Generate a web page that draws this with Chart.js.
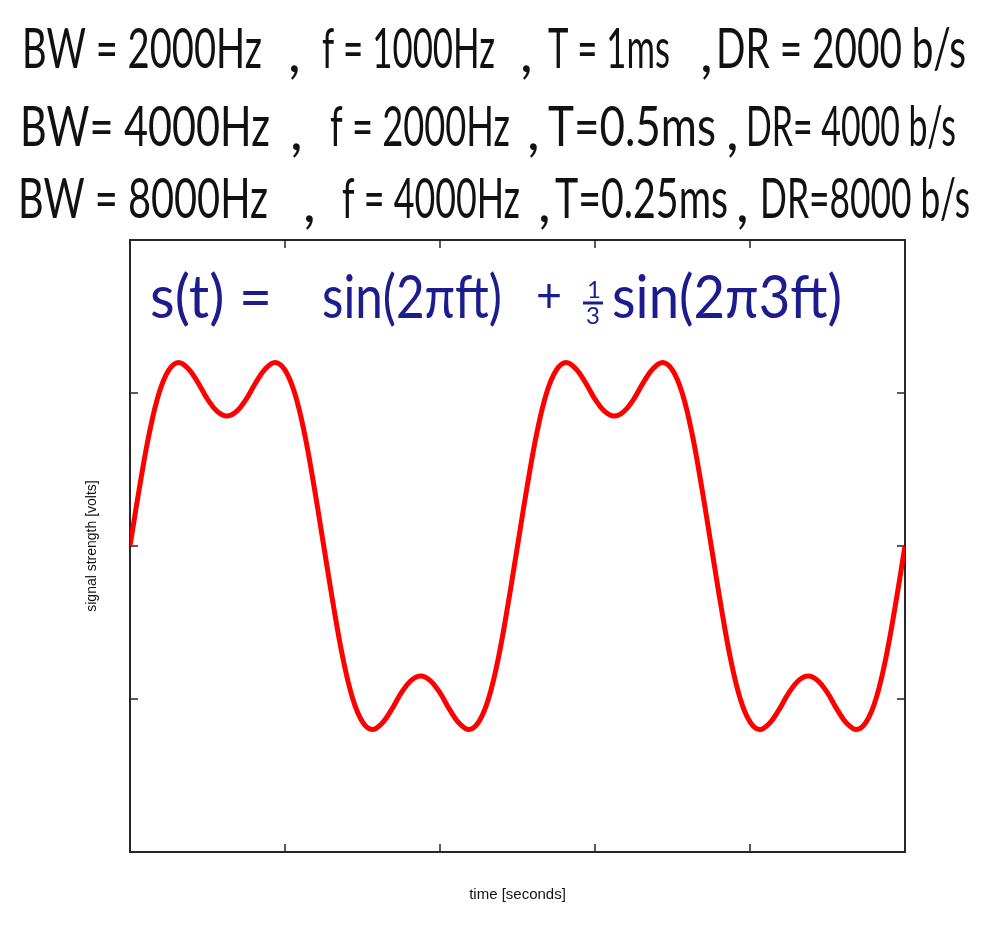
<!DOCTYPE html>
<html>
<head>
<meta charset="utf-8">
<script src="https://cdn.jsdelivr.net/npm/chart.js@4"></script>
<style>
  body { margin: 0; background: #ffffff; }
  #wrap { width: 1000px; height: 940px; }
</style>
</head>
<body>
<div id="wrap"><canvas id="signal" width="1000" height="940"></canvas></div>
<script>
// time axis samples (seconds, normalised to the plotted window)
const timeValues = [
  0, 0.0125, 0.025, 0.0375, 0.05, 0.0625, 0.075, 0.0875, 0.1, 0.1125,
  0.125, 0.1375, 0.15, 0.1625, 0.175, 0.1875, 0.2, 0.2125, 0.225, 0.2375,
  0.25, 0.2625, 0.275, 0.2875, 0.3, 0.3125, 0.325, 0.3375, 0.35, 0.3625,
  0.375, 0.3875, 0.4, 0.4125, 0.425, 0.4375, 0.45, 0.4625, 0.475, 0.4875,
  0.5, 0.5125, 0.525, 0.5375, 0.55, 0.5625, 0.575, 0.5875, 0.6, 0.6125,
  0.625, 0.6375, 0.65, 0.6625, 0.675, 0.6875, 0.7, 0.7125, 0.725, 0.7375,
  0.75, 0.7625, 0.775, 0.7875, 0.8, 0.8125, 0.825, 0.8375, 0.85, 0.8625,
  0.875, 0.8875, 0.9, 0.9125, 0.925, 0.9375, 0.95, 0.9625, 0.975, 0.9875, 1
];

// signal strength (volts)
const signalValues = [
  0, 0.39, 0.74, 1.00, 1.15, 1.20, 1.16, 1.07, 0.96, 0.88,
  0.85, 0.88, 0.96, 1.07, 1.16, 1.20, 1.15, 1.00, 0.74, 0.39,
  0, -0.39, -0.74, -1.00, -1.15, -1.20, -1.16, -1.07, -0.96, -0.88,
  -0.85, -0.88, -0.96, -1.07, -1.16, -1.20, -1.15, -1.00, -0.74, -0.39,
  0, 0.39, 0.74, 1.00, 1.15, 1.20, 1.16, 1.07, 0.96, 0.88,
  0.85, 0.88, 0.96, 1.07, 1.16, 1.20, 1.15, 1.00, 0.74, 0.39,
  0, -0.39, -0.74, -1.00, -1.15, -1.20, -1.16, -1.07, -0.96, -0.88,
  -0.85, -0.88, -0.96, -1.07, -1.16, -1.20, -1.15, -1.00, -0.74, -0.39, 0
];

// axis ranges / tick steps
const xRange = [0, 1];
const xStep = 0.2;
const yRange = [-2, 2];
const yStep = 1;

// handwritten notes above the plot
const noteLines = [
  ['BW = 2000Hz', ',', 'f = 1000Hz', ',', 'T = 1ms', ',', 'DR = 2000 b/s'],
  ['BW= 4000Hz', ',', 'f = 2000Hz', ',', 'T=0.5ms', ',', 'DR= 4000 b/s'],
  ['BW = 8000Hz', ',', 'f = 4000Hz', ',', 'T=0.25ms', ',', 'DR=8000 b/s']
];
const formulaText = ['s(t) =', 'sin(2πft)', '+', '1', '3', 'sin(2π3ft)'];

// where each handwritten chunk sits: [x, width]
const noteSpans = [
  [[22, 240], [288, 8], [322, 173], [520, 8], [548, 122], [700, 8], [716, 250]],
  [[20, 250], [290, 8], [330, 180], [527, 8], [548, 168], [726, 8], [746, 210]],
  [[18, 250], [303, 8], [342, 178], [538, 8], [555, 173], [736, 8], [760, 210]]
];
const noteBaselines = [68, 146, 218];
const handFont = 'Lato, "Open Sans", sans-serif';

function drawStretched(ctx, text, x, y, w) {
  const natural = ctx.measureText(text).width;
  ctx.save();
  ctx.translate(x, y);
  ctx.scale(w / natural, 1);
  ctx.fillText(text, 0, 0);
  ctx.restore();
}

const framePlugin = {
  id: 'frame',
  beforeDatasetsDraw(chart) {
    const ctx = chart.ctx;
    const { left, right, top, bottom } = chart.chartArea;
    const xs = chart.scales.x;
    const ys = chart.scales.y;
    ctx.save();
    // inward ticks on all four sides
    ctx.strokeStyle = '#5a5a5a';
    ctx.lineWidth = 2;
    ctx.beginPath();
    xs.ticks.forEach(t => {
      if (t.value <= xRange[0] || t.value >= xRange[1]) return;
      const px = Math.round(xs.getPixelForValue(t.value));
      ctx.moveTo(px, bottom); ctx.lineTo(px, bottom - 8);
      ctx.moveTo(px, top); ctx.lineTo(px, top + 8);
    });
    ys.ticks.forEach(t => {
      if (t.value <= yRange[0] || t.value >= yRange[1]) return;
      const py = Math.round(ys.getPixelForValue(t.value));
      ctx.moveTo(left, py); ctx.lineTo(left + 8, py);
      ctx.moveTo(right, py); ctx.lineTo(right - 8, py);
    });
    ctx.stroke();
    // box
    ctx.strokeStyle = '#262626';
    ctx.lineWidth = 2;
    ctx.strokeRect(left, top, right - left, bottom - top);
    ctx.restore();
  },
  afterDraw(chart) {
    const ctx = chart.ctx;
    ctx.save();
    // black notes
    ctx.fillStyle = '#111111';
    ctx.font = '400 56px ' + handFont;
    ctx.textBaseline = 'alphabetic';
    noteLines.forEach((line, i) => {
      line.forEach((chunk, j) => {
        const [x, w] = noteSpans[i][j];
        if (chunk === ',') {
          ctx.fillText(chunk, x, noteBaselines[i] + 4);
        } else {
          drawStretched(ctx, chunk, x, noteBaselines[i], w);
        }
      });
    });
    // blue formula
    ctx.fillStyle = '#1c1c8e';
    ctx.strokeStyle = '#1c1c8e';
    ctx.font = '400 60px ' + handFont;
    drawStretched(ctx, formulaText[0], 150, 318, 122);
    drawStretched(ctx, formulaText[1], 322, 318, 180);
    ctx.font = '400 48px ' + handFont;
    drawStretched(ctx, formulaText[2], 536, 312, 26);
    ctx.font = '400 24px ' + handFont;
    ctx.fillText(formulaText[3], 587, 298);
    ctx.fillText(formulaText[4], 586, 324);
    ctx.lineWidth = 3;
    ctx.beginPath();
    ctx.moveTo(583, 303); ctx.lineTo(603, 303);
    ctx.stroke();
    ctx.font = '400 60px ' + handFont;
    drawStretched(ctx, formulaText[5], 612, 318, 230);
    ctx.restore();
  }
};

const points = timeValues.map((t, i) => ({ x: t, y: signalValues[i] }));

new Chart(document.getElementById('signal').getContext('2d'), {
  type: 'line',
  data: {
    datasets: [{
      label: 's(t)',
      data: points,
      borderColor: '#ff0000',
      borderWidth: 5,
      pointRadius: 0,
      tension: 0.4,
      fill: false
    }]
  },
  options: {
    responsive: false,
    animation: false,
    layout: {
      padding: { top: 240, left: 80, right: 95, bottom: 36 }
    },
    plugins: {
      legend: { display: false },
      tooltip: { enabled: false }
    },
    scales: {
      x: {
        type: 'linear',
        min: xRange[0],
        max: xRange[1],
        ticks: { display: false, stepSize: xStep },
        grid: { display: false },
        border: { display: false },
        title: {
          display: true,
          text: 'time [seconds]',
          color: '#111111',
          font: { family: '"Liberation Sans", Arial, sans-serif', size: 15 },
          padding: { top: 0, bottom: 0 }
        },
        afterFit: scale => { scale.height = 52; }
      },
      y: {
        min: yRange[0],
        max: yRange[1],
        ticks: { display: false, stepSize: yStep },
        grid: { display: false },
        border: { display: false },
        title: {
          display: true,
          text: 'signal strength [volts]',
          color: '#111111',
          font: { family: '"Liberation Sans", Arial, sans-serif', size: 14 },
          padding: { top: 4, bottom: 0 }
        },
        afterFit: scale => { scale.width = 50; }
      }
    }
  },
  plugins: [framePlugin]
});
</script>
</body>
</html>
